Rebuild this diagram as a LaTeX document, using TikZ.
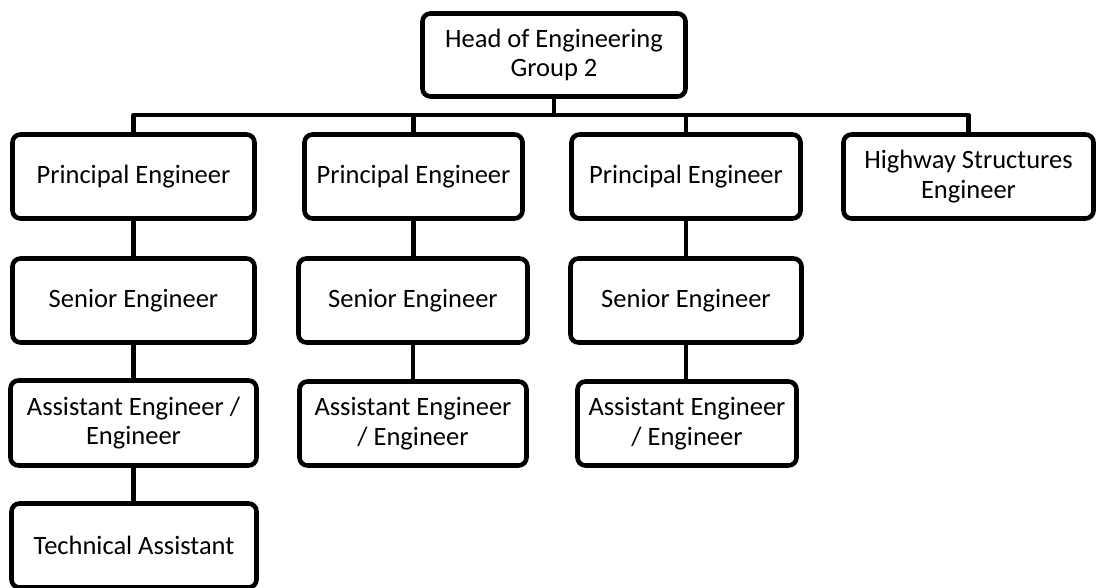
\documentclass[tikz,border=0pt]{standalone}
\usepackage{fontspec}
\setmainfont{Carlito}
\begin{document}
\begin{tikzpicture}[x=1pt,y=-1pt,
  box/.style={draw=black,line width=4.6pt,rounded corners=8pt,fill=white,
    align=center,inner sep=0pt,
    font=\fontsize{26.5}{29.5}\selectfont},
  link/.style={draw=black,line width=4.6pt,line join=round}]
\useasboundingbox[fill=white] (0,0) rectangle (1098,588);

% top
\node[box,minimum width=263pt,minimum height=83pt] (head) at (554,55) {Head of Engineering\\Group 2};

% row 1
\node[box,minimum width=242pt,minimum height=84pt] (pe1) at (133.5,176.5) {Principal Engineer};
\node[box,minimum width=218pt,minimum height=84pt] (pe2) at (413.5,176.5) {Principal Engineer};
\node[box,minimum width=229pt,minimum height=84pt] (pe3) at (686,176.5) {Principal Engineer};
\node[box,minimum width=250pt,minimum height=84pt] (hse) at (968.5,176.5) {Highway Structures\\Engineer};

% row 2
\node[box,minimum width=242pt,minimum height=84pt] (se1) at (133.5,300.5) {Senior Engineer};
\node[box,minimum width=229pt,minimum height=84pt] (se2) at (413,300.5) {Senior Engineer};
\node[box,minimum width=231pt,minimum height=84pt] (se3) at (686,300.5) {Senior Engineer};

% row 3
\node[box,minimum width=246pt,minimum height=85pt] (ae1) at (133.5,423) {Assistant Engineer /\\Engineer};
\node[box,minimum width=227pt,minimum height=84pt] (ae2) at (413,423.5) {Assistant Engineer\\/ Engineer};
\node[box,minimum width=219pt,minimum height=84pt] (ae3) at (687,423.5) {Assistant Engineer\\/ Engineer};

% row 4
\node[box,minimum width=245pt,minimum height=84pt] (ta) at (134,545.5) {Technical Assistant};

% connectors
\coordinate (bus) at (0,115);
\path[link] (head.south) -- (head.south |- bus);
\path[link] (pe1.north) -- (pe1.north |- bus) -- (hse.north |- bus) -- (hse.north);
\path[link] (pe2.north) -- (pe2.north |- bus);
\path[link] (pe3.north) -- (pe3.north |- bus);

\path[link] (pe1.south) -- (se1.north);
\path[link] (se1.south) -- (ae1.north);
\path[link] (ae1.south) -- (ta.north -| ae1.south);
\path[link] (pe2.south) -- (se2.north -| pe2.south);
\path[link] (se2.south) -- (ae2.north -| se2.south);
\path[link] (pe3.south) -- (se3.north -| pe3.south);
\path[link] (se3.south) -- (ae3.north -| se3.south);
\end{tikzpicture}
\end{document}
